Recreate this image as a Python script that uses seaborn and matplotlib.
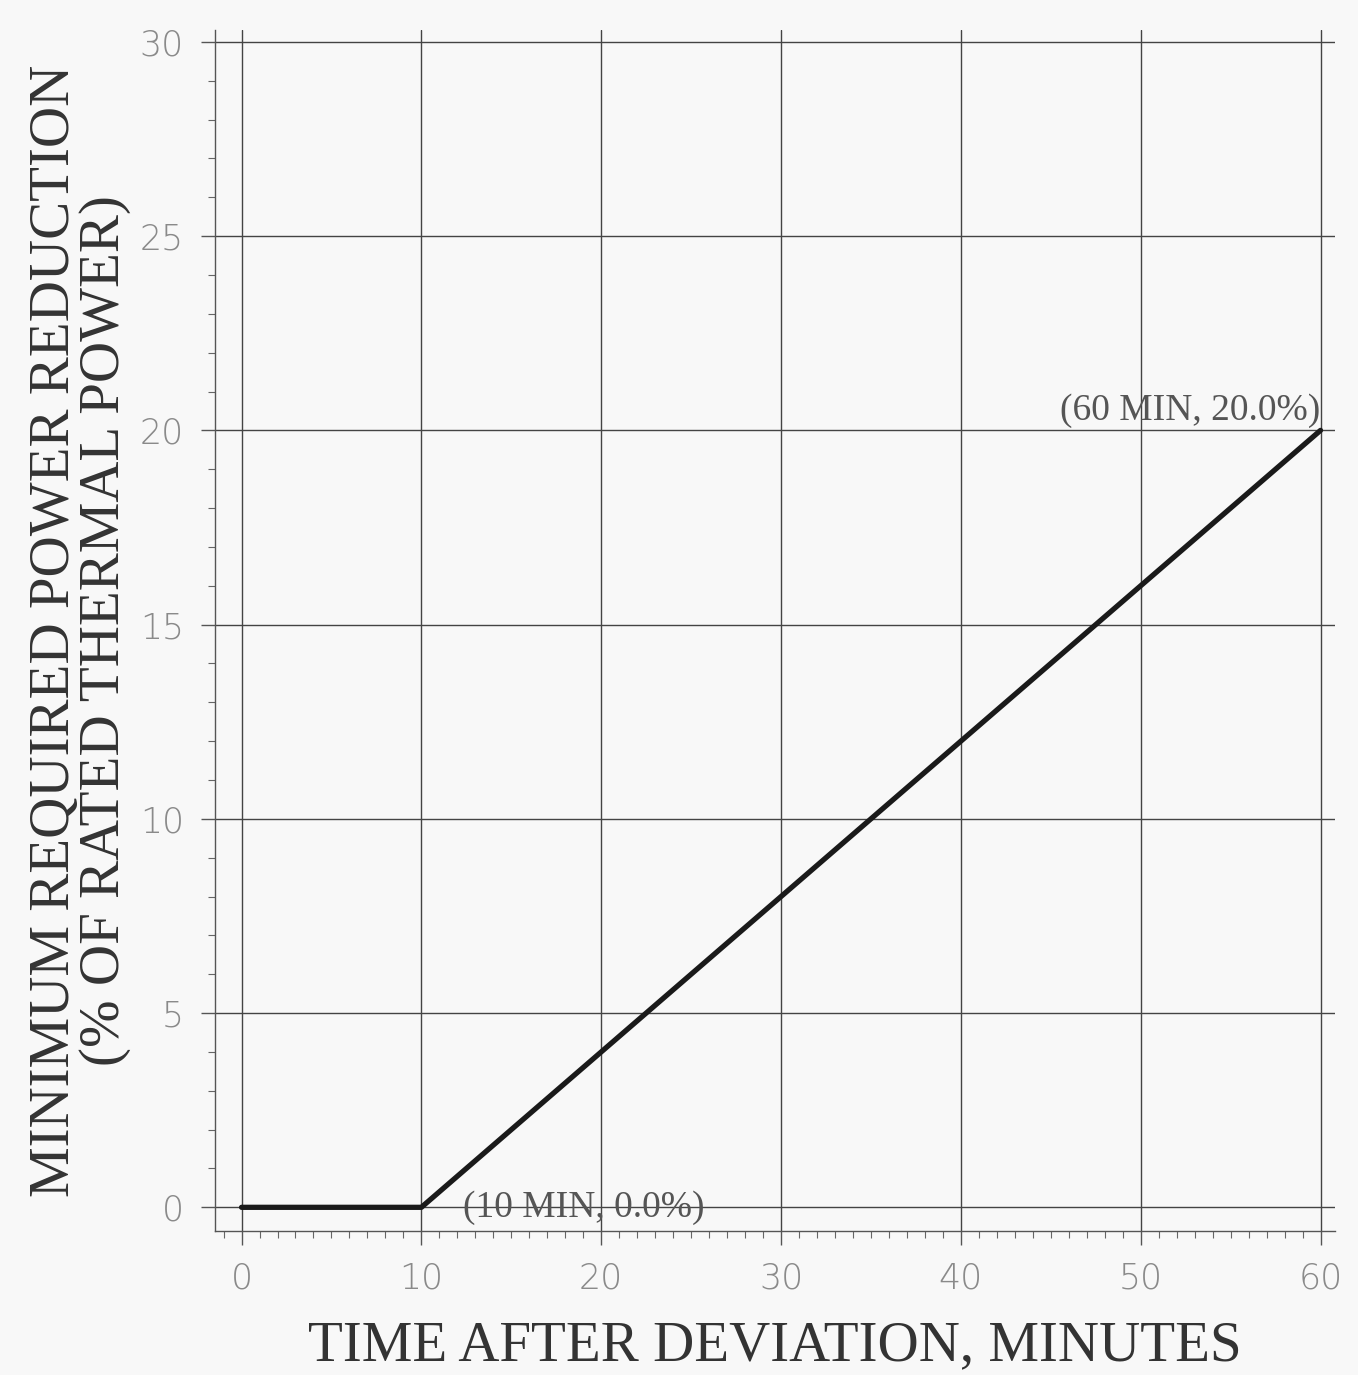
import numpy as np
import pandas as pd
import matplotlib.pyplot as plt
import seaborn as sns
from matplotlib.ticker import MultipleLocator

# data
minutes = [0, 10, 60]
reduction = [0.0, 0.0, 20.0]
x_ticks = [0, 10, 20, 30, 40, 50, 60]
y_ticks = [0, 5, 10, 15, 20, 25, 30]

df = pd.DataFrame({"minutes": minutes, "reduction": reduction})

sns.set_style("white")
plt.rcParams["font.family"] = ["DejaVu Sans"]

bg = "#f8f8f8"
fig = plt.figure(figsize=(13.58, 13.75), dpi=100, facecolor=bg)
ax = fig.add_axes([0.158, 0.105, 0.825, 0.873], facecolor=bg)

sns.lineplot(data=df, x="minutes", y="reduction", color="#1a1a1a", linewidth=3.8, ax=ax)

ax.set_xlim(-1.5, 60.8)
ax.set_ylim(-0.6, 30.3)
ax.set_xticks(x_ticks)
ax.set_yticks(y_ticks)
ax.xaxis.set_minor_locator(MultipleLocator(1))
ax.yaxis.set_minor_locator(MultipleLocator(1))

ax.grid(True, which="major", color="#444444", linewidth=1.0)
for s in ["top", "right"]:
    ax.spines[s].set_visible(False)
for s in ["left", "bottom"]:
    ax.spines[s].set_color("#555555")
    ax.spines[s].set_linewidth(1.0)

ax.tick_params(axis="both", which="both", bottom=True, left=True)
ax.tick_params(axis="both", which="major", length=10, width=1, color="#555555",
               labelsize=25, labelcolor="#8a8a8a", pad=12)
ax.tick_params(axis="both", which="minor", length=5, width=0.8, color="#666666")
for lab in ax.get_xticklabels() + ax.get_yticklabels():
    lab.set_fontweight("light")

ax.set_xlabel("TIME AFTER DEVIATION, MINUTES", fontsize=41, family="Liberation Serif",
              color="#333333", labelpad=18)
ax.set_ylabel("MINIMUM REQUIRED POWER REDUCTION\n(% OF RATED THERMAL POWER)",
              fontsize=41, family="Liberation Serif", color="#333333",
              labelpad=6, linespacing=0.95)

ax.text(60, 20.05, "(60 MIN, 20.0%)", ha="right", va="bottom", fontsize=27,
        family="Liberation Serif", color="#555555")
ax.text(12.3, 0.0, "(10 MIN, 0.0%)", ha="left", va="center", fontsize=27,
        family="Liberation Serif", color="#555555")

fig.savefig("out.png", dpi=100, facecolor=bg)
